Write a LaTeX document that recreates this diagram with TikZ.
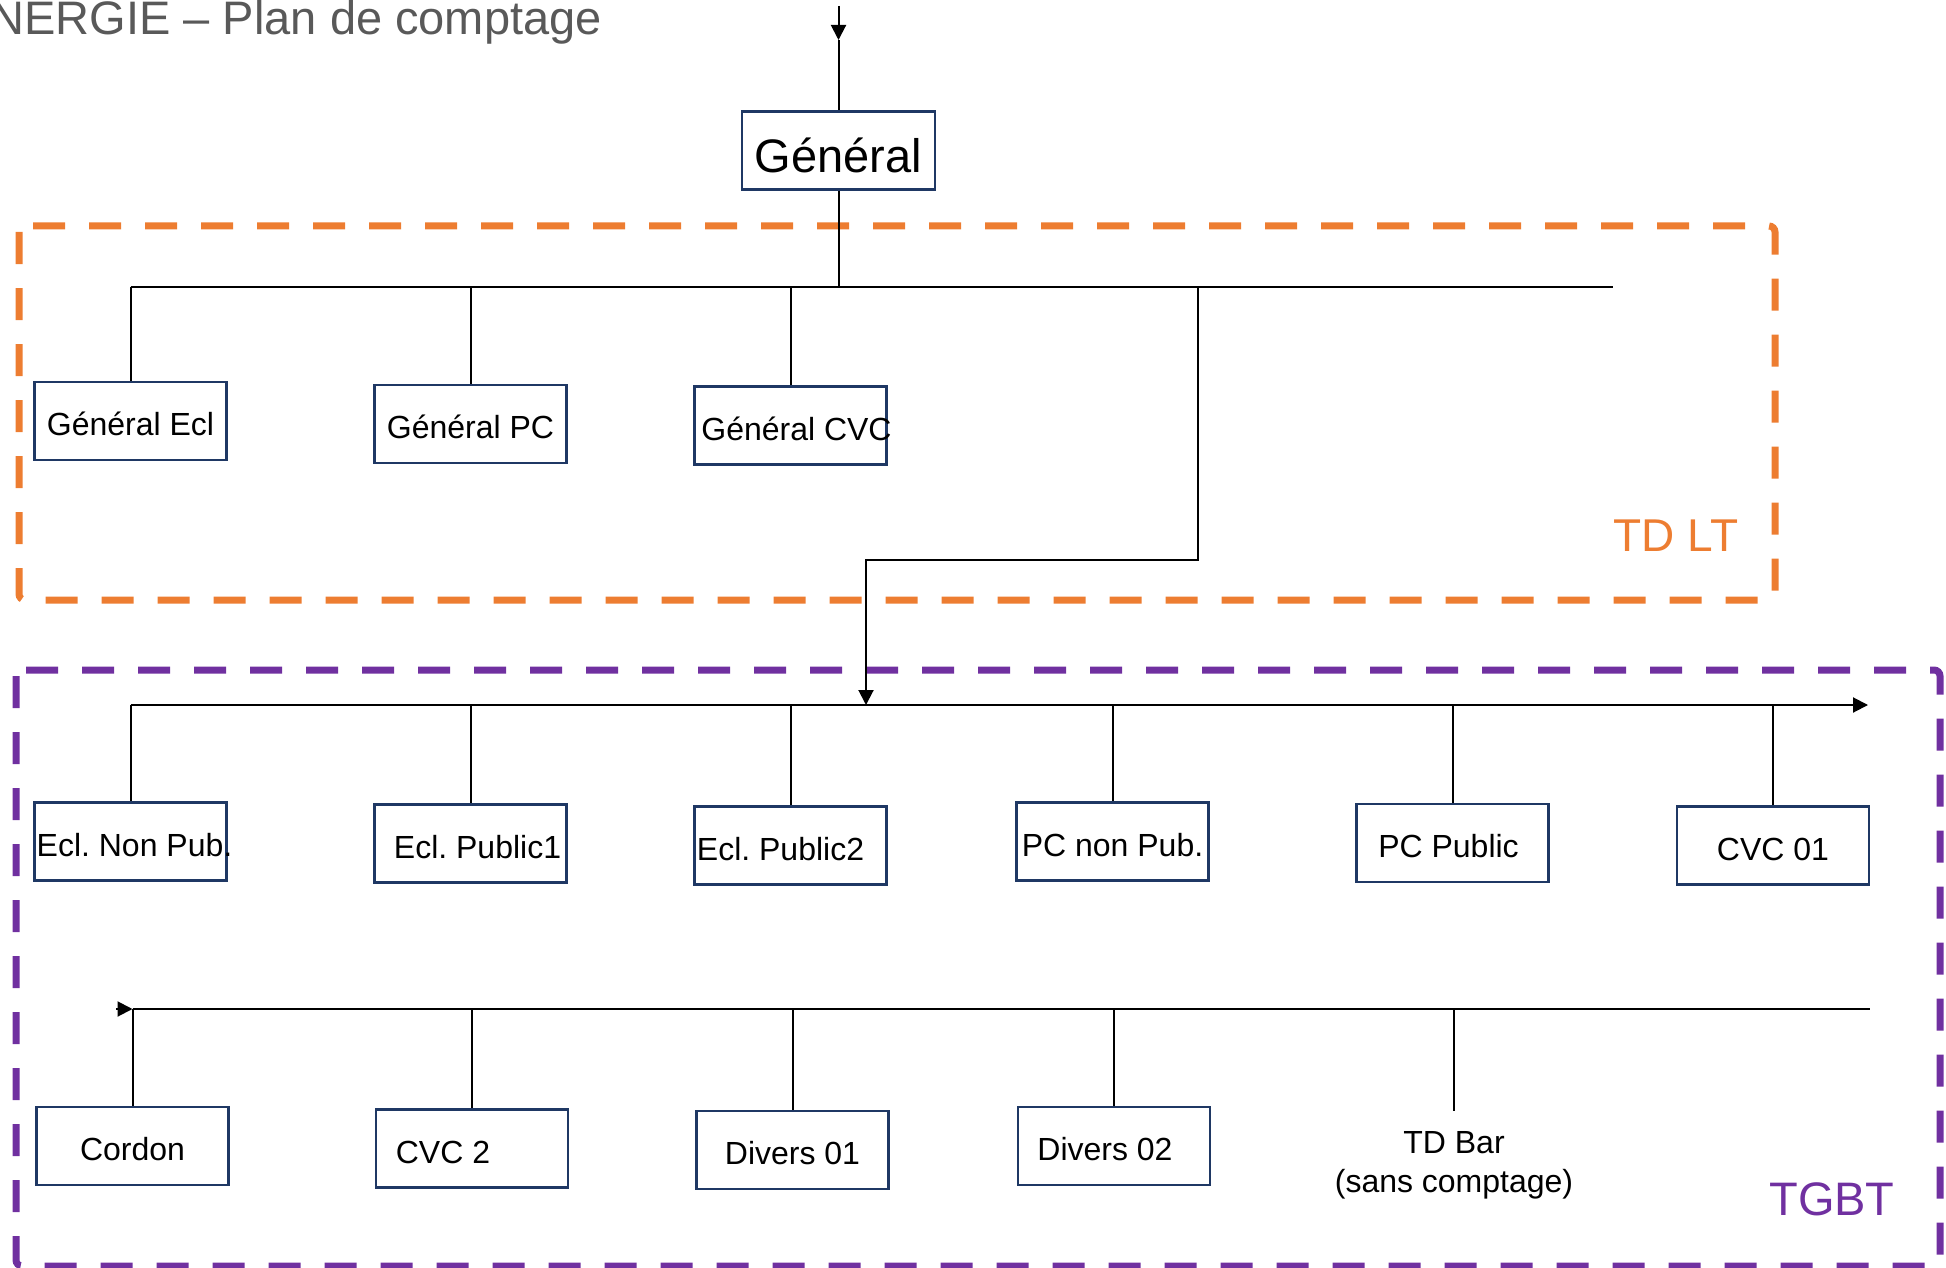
\documentclass[tikz,border=0pt]{standalone}
\usepackage{fontspec}
\setmainfont{Liberation Sans}
\usetikzlibrary{arrows.meta}

\definecolor{tdorange}{HTML}{ED7D31}
\definecolor{tgbtpurple}{HTML}{7030A0}
\definecolor{boxnavy}{HTML}{1F3864}
\definecolor{titlegray}{HTML}{595959}

% text that sits off the middle of its box
\newcommand{\nudged}[2]{\makebox[0pt][c]{\hspace*{#1}#2}}

\tikzset{
    meter/.style={draw=boxnavy, line width=2.5pt, minimum width=192pt, minimum height=78pt,
        inner sep=0pt, text height=29pt, text depth=0pt, font=\fontsize{32}{38}\selectfont},
    wire/.style={line width=2pt, black},
    tip/.style={-{Triangle[length=15pt, width=15pt]}},
    zone/.style={line width=7pt, dash pattern=on 32pt off 24pt, rounded corners=6pt}
}

\begin{document}
\frenchspacing
\begin{tikzpicture}[x=1pt, y=-1pt]
    \useasboundingbox (0,0) rectangle (1946,1268);

    % Title
    \node[anchor=base east, text=titlegray, inner sep=0pt, font=\fontsize{47}{56}\selectfont] (title) at (602,35) {NERGIE – Plan de comptage};

    % Zones
    \draw[zone, tdorange] (19,226) rectangle (1775,600);
    \draw[zone, tgbtpurple] (16,670) rectangle (1940,1266);
    \node[text=tdorange, inner sep=0pt, font=\fontsize{46}{54}\selectfont] (tdlt) at (1676,536) {TD LT};
    \node[text=tgbtpurple, inner sep=0pt, font=\fontsize{47}{56}\selectfont] (tgbt) at (1832,1199) {TGBT};

    % Main meter
    \node[meter, minimum width=193pt, text height=44pt, font=\fontsize{47}{56}\selectfont] (gen) at (838.5,150.5) {Général};

    % TD LT meters
    \node[meter] (gecl) at (130.5,421) {Général Ecl};
    \node[meter] (gpc) at (470.5,424) {Général PC};
    \node[meter] (gcvc) at (790.5,425.5) {\nudged{12pt}{Général CVC}};

    % TGBT meters, first row
    \node[meter] (eclnp) at (130.5,841.5) {\nudged{8pt}{Ecl. Non Pub.}};
    \node[meter] (eclpa) at (470.5,843.5) {\nudged{14pt}{Ecl. Public1}};
    \node[meter] (eclpb) at (790.5,845.5) {\nudged{-20pt}{Ecl. Public2}};
    \node[meter] (pcnp) at (1112.5,841.5) {PC non Pub.};
    \node[meter] (pcp) at (1452.5,843) {\nudged{-8pt}{PC Public}};
    \node[meter] (cvca) at (1773,845.5) {CVC 01};

    % TGBT meters, second row
    \node[meter] (cordon) at (132.5,1146) {Cordon};
    \node[meter] (cvcb) at (472,1148.5) {\nudged{-58pt}{CVC 2}};
    \node[meter] (diva) at (792.5,1150) {Divers 01};
    \node[meter] (divb) at (1114,1146) {\nudged{-18pt}{Divers 02}};
    \node[align=center, inner xsep=0pt, inner ysep=20pt, font=\fontsize{32}{39}\selectfont] (tdbar) at (1454,1165) {TD Bar\\(sans comptage)};

    % Buses
    \coordinate (feed) at (838.5,6);
    \coordinate (feedtip) at (838.5,40);
    \coordinate (busA) at (0,287);
    \coordinate (busAR) at (1613,287);
    \coordinate (tap) at (1198,287);
    \coordinate (bend) at (866,560);
    \coordinate (busB) at (0,705);
    \coordinate (busBR) at (1868,705);
    \coordinate (busC) at (0,1009);
    \coordinate (busCL) at (116,1009);
    \coordinate (busCR) at (1870,1009);

    % Feed
    \draw[wire, tip] (feed) -- (feedtip);
    \draw[wire] (feedtip) -- (gen.north);
    \draw[wire] (gen.south) -- (gen.south |- busA);

    % TD LT bus
    \draw[wire] (gecl.north |- busA) -- (busAR);
    \foreach \m in {gecl,gpc,gcvc}
        \draw[wire] (\m.north |- busA) -- (\m.north);

    % Link to TGBT
    \draw[wire, tip] (tap) |- (bend) -- (bend |- busB);

    % TGBT bus, first row
    \draw[wire, tip] (eclnp.north |- busB) -- (busBR);
    \foreach \m in {eclnp,eclpa,eclpb,pcnp,pcp,cvca}
        \draw[wire] (\m.north |- busB) -- (\m.north);

    % TGBT bus, second row
    \draw[wire] (cordon.north |- busC) -- (busCR);
    \draw[wire, tip] (busCL) -- (cordon.north |- busC);
    \foreach \m in {cordon,cvcb,diva,divb,tdbar}
        \draw[wire] (\m.north |- busC) -- (\m.north);
\end{tikzpicture}
\end{document}
